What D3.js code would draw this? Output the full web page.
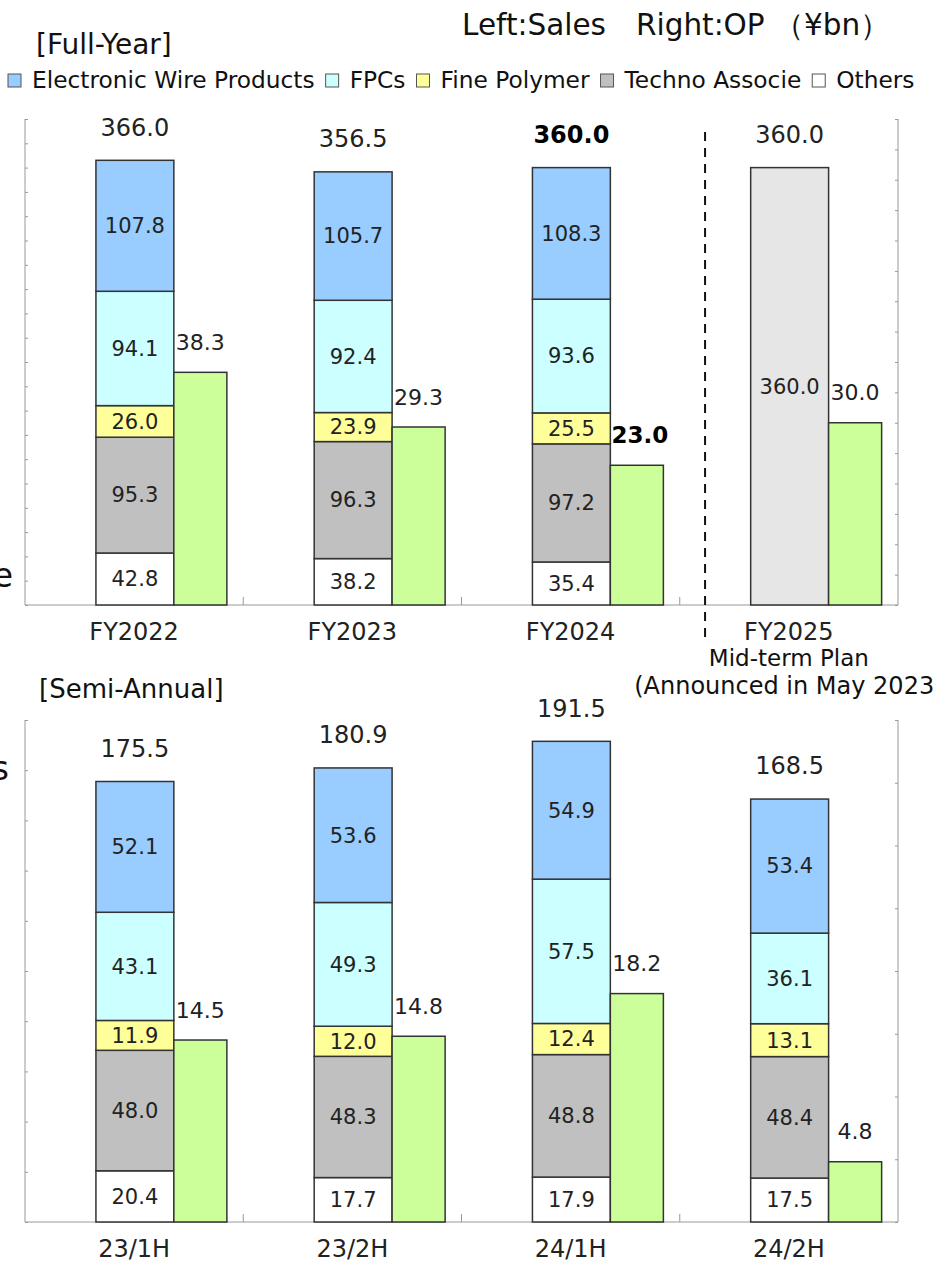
<!DOCTYPE html>
<html lang="en">
<head>
<meta charset="UTF-8">
<title>Sales and OP by segment</title>
<script src="https://d3js.org/d3.v7.min.js"></script>
<style>
  body { margin: 0; padding: 0; background: #fff; }
  svg { display: block; font-family: "DejaVu Sans", Verdana, sans-serif; }
  .axis path, .axis line { stroke: #999; }
  .seg { stroke: #333; stroke-width: 1.5; }
</style>
</head>
<body>
<div id="chart"></div>
<script>
// ---- data ----
const segNames = ["Electronic Wire Products", "FPCs", "Fine Polymer", "Techno Associe", "Others"];
const segColors = ["#99ccff", "#ccffff", "#ffff99", "#c0c0c0", "#ffffff"];

const fyCats = ["FY2022", "FY2023", "FY2024", "FY2025"];
const fyWire = [107.8, 105.7, 108.3, null];
const fyFpc = [94.1, 92.4, 93.6, null];
const fyPolymer = [26.0, 23.9, 25.5, null];
const fyTechno = [95.3, 96.3, 97.2, null];
const fyOthers = [42.8, 38.2, 35.4, null];
const fyTotal = [366.0, 356.5, 360.0, 360.0];
const fyOP = [38.3, 29.3, 23.0, 30.0];

const haCats = ["23/1H", "23/2H", "24/1H", "24/2H"];
const haWire = [52.1, 53.6, 54.9, 53.4];
const haFpc = [43.1, 49.3, 57.5, 36.1];
const haPolymer = [11.9, 12.0, 12.4, 13.1];
const haTechno = [48.0, 48.3, 48.8, 48.4];
const haOthers = [20.4, 17.7, 17.9, 17.5];
const haTotal = [175.5, 180.9, 191.5, 168.5];
const haOP = [14.5, 14.8, 18.2, 4.8];

const W = 933, H = 1268;
const svg = d3.select("#chart").append("svg").attr("width", W).attr("height", H);

// header
svg.append("text").attr("x", 462).attr("y", 35).attr("font-size", 29.5).attr("fill", "#111")
  .text("Left:Sales　Right:OP （¥bn）");
svg.append("text").attr("x", 36).attr("y", 54).attr("font-size", 28).attr("fill", "#111").text("[Full-Year]");
svg.append("text").attr("x", 39).attr("y", 698).attr("font-size", 26).attr("fill", "#111").text("[Semi-Annual]");

// cut-off fragments on the left edge
svg.append("text").attr("x", 13).attr("y", 587).attr("text-anchor", "end").attr("font-size", 33).attr("fill", "#111").text("e");
svg.append("text").attr("x", 9).attr("y", 780).attr("text-anchor", "end").attr("font-size", 33).attr("fill", "#111").text("s");

// legend
const legend = svg.append("g");
let lx = 8;
segNames.forEach((name, i) => {
  legend.append("rect").attr("x", lx).attr("y", 74).attr("width", 13).attr("height", 13)
    .attr("fill", segColors[i]).attr("stroke", "#555").attr("stroke-width", 1);
  const t = legend.append("text").attr("x", lx + 24).attr("y", 88).attr("font-size", 23.3).attr("fill", "#111").text(name);
  lx += 24 + t.node().getComputedTextLength() + 11;
});

function panel(cfg) {
  const g = svg.append("g");
  const x = d3.scaleBand().domain(cfg.cats).range([25, 898]).paddingInner(0).paddingOuter(0);
  const yS = d3.scaleLinear().domain([0, cfg.salesMax]).range([cfg.bottom, cfg.top]);
  const yO = d3.scaleLinear().domain([0, cfg.opMax]).range([cfg.bottom, cfg.top]);
  const bw = x.bandwidth();
  const sx = c => x(c) + bw * 0.325, sw = bw * 0.357;
  const ox = c => x(c) + bw * 0.682, ow = bw * 0.243;

  // axes: faint inner ticks, no labels
  g.append("g").attr("class", "axis").attr("transform", "translate(25,0)")
    .call(d3.axisRight(yS).ticks(cfg.salesMax / cfg.salesStep).tickSize(3).tickFormat(""))
    .call(a => a.selectAll(".tick line").attr("stroke", "#eee"))
    .call(a => a.select(".domain").attr("d", `M0,${cfg.top}V${cfg.bottom}`));
  g.append("g").attr("class", "axis").attr("transform", "translate(898,0)")
    .call(d3.axisLeft(yO).ticks(cfg.opMax / cfg.opStep).tickSize(3).tickFormat(""))
    .call(a => a.selectAll(".tick line").attr("stroke", "#ddd"))
    .call(a => a.select(".domain").attr("d", `M0,${cfg.top}V${cfg.bottom}`));
  g.append("line").attr("x1", 25).attr("x2", 898).attr("y1", cfg.bottom).attr("y2", cfg.bottom)
    .attr("stroke", "#999");
  cfg.cats.slice(1).forEach(c => {
    g.append("line").attr("x1", x(c)).attr("x2", x(c)).attr("y1", cfg.bottom).attr("y2", cfg.bottom - 8)
      .attr("stroke", "#999");
  });

  cfg.cats.forEach((c, i) => {
    const vals = cfg.segs.map(s => s[i]);
    const bold = cfg.boldCats.includes(c);
    if (vals[0] == null) {
      // plan bar, total only
      g.append("rect").attr("class", "seg").attr("x", sx(c)).attr("width", sw)
        .attr("y", yS(cfg.total[i])).attr("height", yS(0) - yS(cfg.total[i])).attr("fill", "#e6e6e6");
      g.append("text").attr("x", sx(c) + sw / 2).attr("y", (yS(cfg.total[i]) + yS(0)) / 2)
        .attr("dy", "0.35em").attr("text-anchor", "middle").attr("font-size", 21).attr("fill", "#222")
        .text(cfg.total[i].toFixed(1));
    } else {
      // stack from the bottom: Others, Techno, Polymer, FPC, Wire
      let base = 0;
      for (let k = vals.length - 1; k >= 0; k--) {
        const v = vals[k];
        const y0 = yS(base), y1 = yS(base + v);
        g.append("rect").attr("class", "seg").attr("x", sx(c)).attr("width", sw)
          .attr("y", y1).attr("height", y0 - y1).attr("fill", segColors[k]);
        g.append("text").attr("x", sx(c) + sw / 2).attr("y", (y0 + y1) / 2).attr("dy", "0.35em")
          .attr("text-anchor", "middle").attr("font-size", 21).attr("fill", "#222").text(v.toFixed(1));
        base += v;
      }
    }
    // total label
    g.append("text").attr("x", sx(c) + sw / 2).attr("y", yS(cfg.total[i]) - 33).attr("dy", "0.35em")
      .attr("text-anchor", "middle").attr("font-size", 24).attr("fill", bold ? "#000" : "#222")
      .attr("font-weight", bold ? "bold" : null).text(cfg.total[i].toFixed(1));

    // OP bar
    g.append("rect").attr("class", "seg").attr("x", ox(c)).attr("width", ow)
      .attr("y", yO(cfg.op[i])).attr("height", yO(0) - yO(cfg.op[i])).attr("fill", "#ccff99");
    g.append("text").attr("x", ox(c) + ow / 2 + (bold ? 3 : 0)).attr("y", yO(cfg.op[i]) - 30).attr("dy", "0.35em")
      .attr("text-anchor", "middle").attr("font-size", bold ? 23 : 22).attr("fill", bold ? "#000" : "#222")
      .attr("font-weight", bold ? "bold" : null).text(cfg.op[i].toFixed(1));

    // category label
    g.append("text").attr("x", x(c) + bw / 2).attr("y", cfg.bottom + 35)
      .attr("text-anchor", "middle").attr("font-size", 24).attr("fill", "#222").text(c);
  });
  return { x, yS, yO };
}

const fyPanel = panel({
  cats: fyCats, segs: [fyWire, fyFpc, fyPolymer, fyTechno, fyOthers], total: fyTotal, op: fyOP,
  salesMax: 400, salesStep: 25, opMax: 80, opStep: 5, top: 119, bottom: 605, boldCats: ["FY2024"]
});
panel({
  cats: haCats, segs: [haWire, haFpc, haPolymer, haTechno, haOthers], total: haTotal, op: haOP,
  salesMax: 200, salesStep: 20, opMax: 40, opStep: 4, top: 720, bottom: 1222, boldCats: []
});

// mid-term plan divider and caption
const divX = fyPanel.x("FY2025") + fyPanel.x.bandwidth() * 0.116;
svg.append("line").attr("x1", divX).attr("x2", divX).attr("y1", 132).attr("y2", 637)
  .attr("stroke", "#111").attr("stroke-width", 2).attr("stroke-dasharray", "9,7");
const planX = fyPanel.x("FY2025") + fyPanel.x.bandwidth() / 2;
svg.append("text").attr("x", planX).attr("y", 666).attr("text-anchor", "middle")
  .attr("font-size", 23).attr("fill", "#111").text("Mid-term Plan");
svg.append("text").attr("x", planX).attr("y", 694).attr("text-anchor", "middle")
  .attr("font-size", 24).attr("fill", "#111").text("(Announced in May 2023)");
</script>
</body>
</html>
